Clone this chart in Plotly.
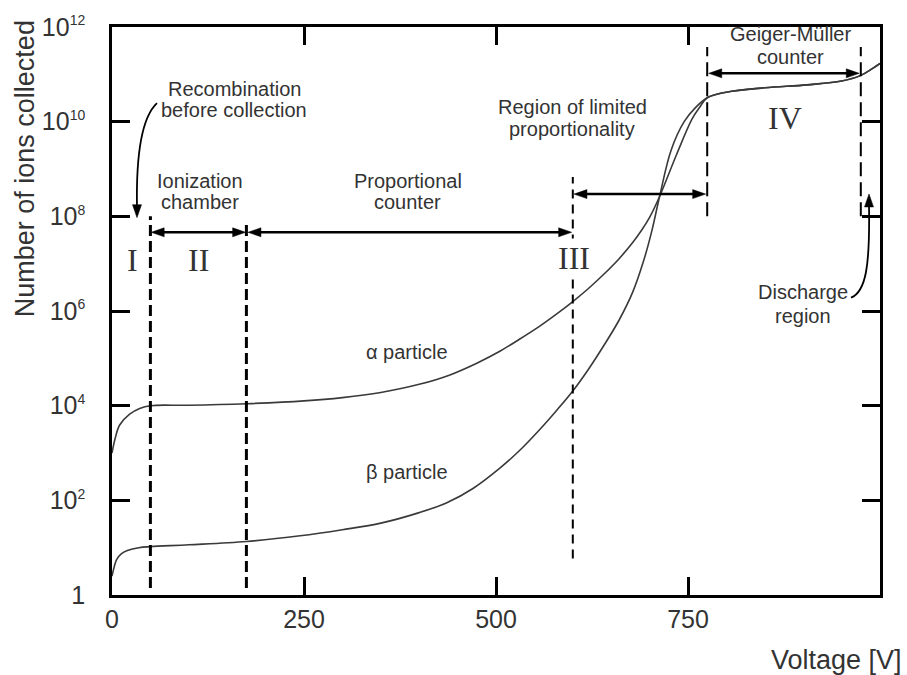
import plotly.graph_objects as go

# ---------------- data ----------------
alpha_voltage = [0, 4, 10, 23, 36, 50, 100, 175, 250, 300, 350, 400, 440, 475, 505, 530, 557,
                 580, 600, 620, 640, 660, 678, 690, 700, 713, 735, 755, 765, 775, 800, 850,
                 905, 950, 975, 990, 1000]
alpha_ions = [1.0e3, 2.0e3, 3.9e3, 6.6e3, 8.7e3, 1.0e4, 1.02e4, 1.1e4, 1.26e4, 1.48e4, 1.9e4,
              2.82e4, 4.47e4, 7.9e4, 1.41e5, 2.5e5, 4.8e5, 8.9e5, 1.58e6, 2.95e6, 5.9e6,
              1.26e7, 2.8e7, 5.2e7, 9.5e7, 2.63e8, 2.0e9, 1.12e10, 2.0e10, 3.2e10, 4.2e10,
              5.2e10, 6.0e10, 7.2e10, 9.5e10, 1.32e11, 1.7e11]

beta_voltage = [0, 3, 6, 12, 20, 35, 50, 100, 175, 245, 300, 350, 400, 436, 470, 505, 530,
                560, 580, 600, 620, 640, 660, 678, 692, 703, 713, 728, 745, 760, 775, 800,
                850, 905, 950, 975, 990, 1000]
beta_ions = [2.5, 4.0, 5.6, 7.4, 8.7, 10.0, 10.5, 11.5, 13.5, 17.8, 24, 33, 55, 89, 178,
             479, 1.1e3, 3.55e3, 8.3e3, 2.04e4, 5.75e4, 1.82e5, 6.3e5, 2.5e6, 1.12e7, 5.0e7,
             2.63e8, 2.5e9, 1.0e10, 2.0e10, 3.2e10, 4.2e10, 5.2e10, 6.0e10, 7.2e10, 9.5e10,
             1.32e11, 1.7e11]

x_ticks = [0, 250, 500, 750, 1000]
x_tick_labels = ["0", "250", "500", "750", "1000"]
y_ticks = [1, 1e2, 1e4, 1e6, 1e8, 1e10, 1e12]
y_exponents = ["", "2", "4", "6", "8", "10", "12"]

# region boundaries (V) and their vertical extents (ions)
boundaries = [
    (50, 1.4, 1.0e8, 3, "11px,5px"),
    (175, 1.4, 7.1e7, 3, "11px,5px"),
    (600, 5.9, 6.8e8, 2, "9px,6px"),
    (775, 1.0e8, 3.8e11, 2, "14px,6px"),
    (975, 1.0e8, 3.8e11, 2, "14px,6px"),
]
# double arrows: (x_start, x_end, y)
double_arrows = [
    (51, 174, 4.6e7),
    (177, 598.5, 4.6e7),
    (601.5, 773, 2.95e8),
    (777, 973, 1.05e11),
]

TXT = "#333333"
SANS = "Liberation Sans, Arial, sans-serif"
SERIF = "Liberation Serif, Times New Roman, serif"

y_tick_labels = ["1" if e == "" else f"10<sup><span style='font-size:14px'>{e}</span></sup>"
                 for e in y_exponents]

fig = go.Figure()
for xs, ys in ((alpha_voltage, alpha_ions), (beta_voltage, beta_ions)):
    fig.add_trace(go.Scatter(x=xs, y=ys, mode="lines",
                             line=dict(color="#3a3a3a", width=1.6, shape="spline", smoothing=1.0),
                             hoverinfo="skip", showlegend=False))

shapes = []
for xv, y0, y1, w, dash in boundaries:
    shapes.append(dict(type="line", xref="x", yref="y", x0=xv, x1=xv, y0=y0, y1=y1,
                       line=dict(color="black", width=w, dash=dash)))

def tri(xa, ya, direction, xref="x", yref="y"):
    L, H = 13, 4.5
    if direction == "right":
        path = f"M0,0 L{-L},{H} L{-L},{-H} Z"
    elif direction == "left":
        path = f"M0,0 L{L},{H} L{L},{-H} Z"
    elif direction == "down":
        path = f"M0,0 L{-H},{L} L{H},{L} Z"
    else:
        path = f"M0,0 L{-H},{-L} L{H},{-L} Z"
    return dict(type="path", xref=xref, yref=yref, xsizemode="pixel", ysizemode="pixel",
                xanchor=xa, yanchor=ya, path=path,
                fillcolor="black", line=dict(color="black", width=0.5))

for xs, xe, yv in double_arrows:
    shapes.append(dict(type="line", xref="x", yref="y", x0=xs + 8, x1=xe - 8, y0=yv, y1=yv,
                       line=dict(color="black", width=2.5)))
    shapes.append(tri(xs, yv, "left"))
    shapes.append(tri(xe, yv, "right"))

# curved pointer arrows in paper coordinates (plot area 112..880 x 20..595 px)
def P(px, py):
    return f"{(px - 112) / 768:.5f},{(595 - py) / 575:.5f}"

shapes.append(dict(type="path", xref="paper", yref="paper",
                   path=f"M{P(157, 97)} C{P(141, 112)} {P(136, 150)} {P(137, 203)}",
                   line=dict(color="black", width=1.8)))
shapes.append(tri((137 - 112) / 768, (595 - 213) / 575, "down", "paper", "paper"))
shapes.append(dict(type="path", xref="paper", yref="paper",
                   path=f"M{P(851, 294)} C{P(866, 288)} {P(870, 262)} {P(869, 200)}",
                   line=dict(color="black", width=1.8)))
shapes.append(tri((869 - 112) / 768, (595 - 189) / 575, "up", "paper", "paper"))

ann = []
def label(text, x, ylog, size=20, font=SANS, bg=None):
    d = dict(text=text, x=x, y=ylog, xref="x", yref="y", showarrow=False,
             font=dict(family=font, size=size, color=TXT), align="center")
    if bg:
        d["bgcolor"] = bg
    ann.append(d)

label("Recombination", 159, 10.7)
label("before collection", 159, 10.24)
label("Ionization", 115, 8.74)
label("chamber", 115, 8.3)
label("Proportional", 385, 8.74)
label("counter", 385, 8.3)
label("Region of limited", 599, 10.3)
label("proportionality", 599, 9.84)
label("Geiger-Müller", 884, 11.85)
label("counter", 884, 11.37)
label("Discharge", 900, 6.4)
label("region", 900, 5.9)
label("α particle", 384, 5.13)
label("β particle", 384, 2.6)
label("I", 27, 7.08, 32, SERIF)
label("II", 113, 7.08, 32, SERIF)
label("III", 602, 7.12, 32, SERIF, bg="white")
label("IV", 876, 10.08, 32, SERIF)

ann.append(dict(text="Voltage [V]", xref="paper", yref="paper", x=(904 - 112) / 768,
                y=(595 - 661) / 575, xanchor="right", yanchor="middle", showarrow=False,
                font=dict(family=SANS, size=27, color=TXT)))
ann.append(dict(text="Number of ions collected", xref="paper", yref="paper",
                x=(25 - 112) / 768, y=(595 - 164) / 575, xanchor="center", yanchor="middle",
                textangle=-90, showarrow=False, font=dict(family=SANS, size=27, color=TXT)))

fig.update_layout(
    width=907, height=675,
    margin=dict(l=112, r=27, t=20, b=80),
    paper_bgcolor="white", plot_bgcolor="white",
    shapes=shapes, annotations=ann,
    xaxis=dict(range=[0, 1000], tickvals=x_ticks, ticktext=x_tick_labels,
               showline=True, linecolor="black", linewidth=2.5, mirror="ticks",
               ticks="inside", ticklen=18, tickwidth=2.5, tickcolor="black",
               showgrid=False, zeroline=False, ticklabelstandoff=0,
               tickfont=dict(family=SANS, size=25, color=TXT)),
    yaxis=dict(type="log", range=[0, 12], tickvals=y_ticks, ticktext=y_tick_labels,
               showline=True, linecolor="black", linewidth=2.5, mirror="ticks",
               ticks="inside", ticklen=18, tickwidth=2.5, tickcolor="black",
               showgrid=False, zeroline=False, ticklabelstandoff=19,
               tickfont=dict(family=SANS, size=25, color=TXT)),
)

fig.write_html("out.html")
